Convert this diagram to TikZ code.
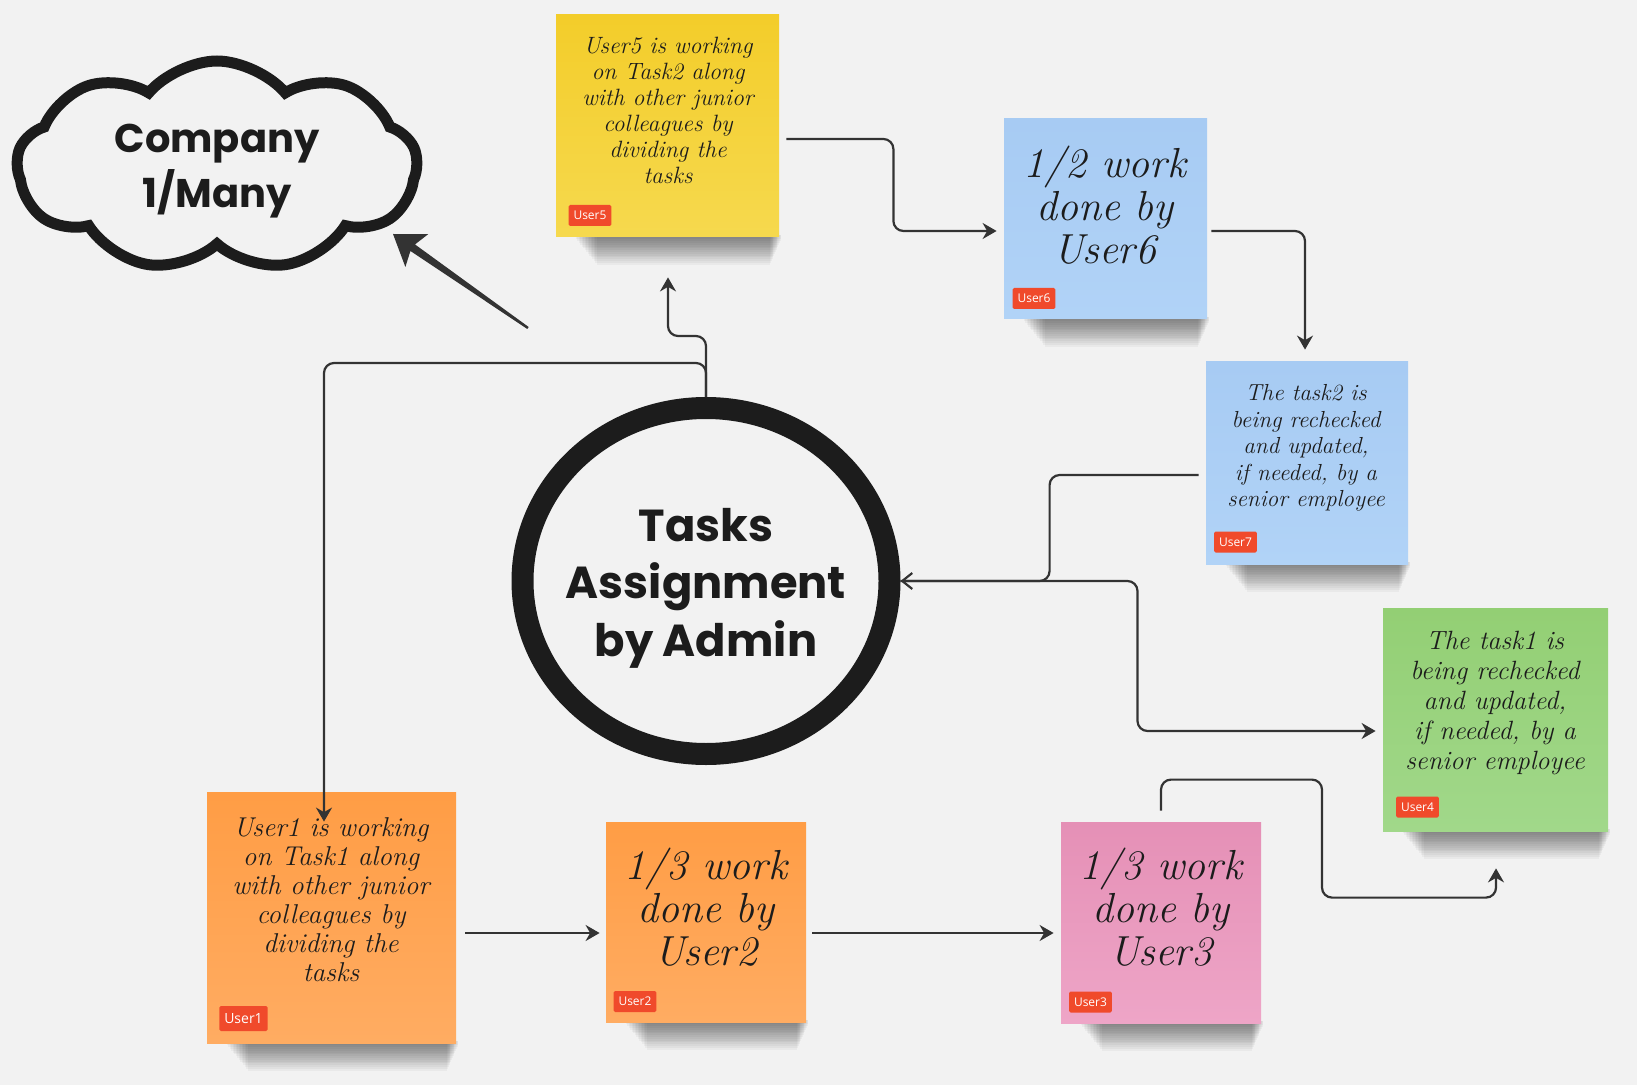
\documentclass[tikz,border=0pt]{standalone}
\usepackage{fontspec}
\newfontfamily\headfont{Poppins}
\newfontfamily\tagfont{Open Sans}
\usetikzlibrary{arrows.meta, calc, shapes.geometric, shapes.symbols}
\definecolor{bg}{HTML}{F2F2F2}
\definecolor{ink}{HTML}{1C1C1C}
\definecolor{linkgray}{HTML}{333333}
\definecolor{tagred}{HTML}{F04A2B}
\definecolor{yellowtop}{HTML}{F3CD2A}
\definecolor{yellowbot}{HTML}{F6D94E}
\definecolor{bluetop}{HTML}{A7CBF3}
\definecolor{bluebot}{HTML}{B1D3F7}
\definecolor{greentop}{HTML}{93CF74}
\definecolor{greenbot}{HTML}{A1D88A}
\definecolor{orangetop}{HTML}{FF9D45}
\definecolor{orangebot}{HTML}{FFAC62}
\definecolor{pinktop}{HTML}{E590B6}
\definecolor{pinkbot}{HTML}{EEA5C7}
\pgfdeclarelayer{bgl}
\pgfsetlayers{bgl,main}

\begin{document}
\begin{tikzpicture}[x=0.5pt, y=-0.5pt, >=Stealth,
  note/.style={inner sep=0pt},
  shadowband/.style={fill=black, fill opacity=0.035},
  hand/.style 2 args={font=\itshape\fontsize{#1}{#2}\selectfont, text=ink, align=center, inner sep=0pt},
  head/.style 2 args={font=\headfont\bfseries\fontsize{#1}{#2}\selectfont, text=ink, align=center, inner sep=0pt},
  tag/.style={fill=tagred, text=white, inner xsep=2.5pt, inner ysep=0pt, minimum height=10.5pt,
    rounded corners=0.8pt, font=\tagfont\fontsize{6}{7}\selectfont},
  link/.style={draw=linkgray, line width=1.1pt, rounded corners=5pt, -{Stealth[length=7pt, width=8pt]}}]
  \useasboundingbox (0,0) rectangle (1637,1085);

  % sticky notes
  \node[note, minimum width=111.5pt, minimum height=111pt, top color=yellowtop, bottom color=yellowbot] (n5) at (667.5,126) {};
  \node[note, minimum width=101.5pt, minimum height=100pt, top color=bluetop, bottom color=bluebot] (n6) at (1105.5,219) {};
  \node[note, minimum width=101pt, minimum height=101pt, top color=bluetop, bottom color=bluebot] (n7) at (1307,463) {};
  \node[note, minimum width=112.5pt, minimum height=111.5pt, top color=greentop, bottom color=greenbot] (n4) at (1495.5,719.5) {};
  \node[note, minimum width=124.5pt, minimum height=125.5pt, top color=orangetop, bottom color=orangebot] (n1) at (331.5,917.5) {};
  \node[note, minimum width=100pt, minimum height=100pt, top color=orangetop, bottom color=orangebot] (n2) at (706,922) {};
  \node[note, minimum width=100pt, minimum height=100.5pt, top color=pinktop, bottom color=pinkbot] (n3) at (1161,922.5) {};

  % note texts
  \node[hand={11.8}{13}] (t5) at (668,110) {User5 is working\\on Task2 along\\with other junior\\colleagues by\\dividing the\\tasks};
  \node[hand={21}{21.5}] (t6) at (1105,205) {1/2 work\\done by\\User6};
  \node[hand={11.6}{13.3}] (t7) at (1306,448) {The task2 is\\being rechecked\\and updated,\\if needed, by a\\senior employee};
  \node[hand={13.2}{15}] (t4) at (1495,703) {The task1 is\\being rechecked\\and updated,\\if needed, by a\\senior employee};
  \node[hand={13.6}{14.5}] (t1) at (331,900) {User1 is working\\on Task1 along\\with other junior\\colleagues by\\dividing the\\tasks};
  \node[hand={21}{21.5}] (t2) at (706,907) {1/3 work\\done by\\User2};
  \node[hand={21}{21.5}] (t3) at (1161,907) {1/3 work\\done by\\User3};

  % user tags
  \node[tag] (u5) at (590,215.5) {User5};
  \node[tag] (u6) at (1034,298.5) {User6};
  \node[tag] (u7) at (1235.5,542) {User7};
  \node[tag] (u4) at (1417.5,807) {User4};
  \node[tag, minimum height=12.5pt, font=\tagfont\fontsize{7}{8}\selectfont] (u1) at (243.5,1018.5) {User1};
  \node[tag] (u2) at (635,1001.5) {User2};
  \node[tag] (u3) at (1090.5,1002) {User3};

  % cloud and centre
  \node[cloud, cloud puffs=9, cloud puff arc=100, aspect=1.9, draw=ink, line width=5.5pt, fill=bg,
    minimum width=200pt, minimum height=105pt, inner sep=0pt] (company) at (217,166) {};
  \node[head={20}{27.5}] (companylbl) at ($(company.center)+(0,5)$) {Company\\1/Many};
  \node[ellipse, draw=ink, line width=11pt, minimum width=183.5pt, minimum height=173pt] (admin) at (706,581) {};
  \node[head={22.4}{28.7}] (adminlbl) at ($(admin.center)+(0,7)$) {Tasks\\Assignment\\by Admin};

  % big arrow towards the cloud
  \coordinate (bigtail) at (528,328);
  \coordinate (bigtip) at (393,234);
  \coordinate (hb) at ($(bigtip)!14.5pt!(bigtail)$);
  \coordinate (sb) at ($(bigtip)!12pt!(bigtail)$);
  \fill[linkgray, line join=round] (bigtip) -- ($(hb)!10pt!90:(bigtip)$) -- ($(sb)!2pt!90:(bigtip)$)
    -- ($(bigtail)!0.6pt!90:(bigtip)$) -- ($(bigtail)!0.6pt!-90:(bigtip)$)
    -- ($(sb)!2pt!-90:(bigtip)$) -- ($(hb)!10pt!-90:(bigtip)$) -- cycle;

  % links
  \draw[link] ($(n5.east)+(7,13)$) -- ++(107,0) |- ($(n6.west)+(-7,12)$);
  \draw[link] ($(n6.east)+(4,12)$) -| ($(n7.north)+(-2,-12)$);
  \draw[link, -{Straight Barb[length=5pt, width=8pt]}] ($(n7.west)+(-7,12)$) -- ++(-149,0) |- (admin.east);
  \draw[link] (admin.east) -- ++(237,0) |- ($(n4.west)+(-7,11.5)$);
  \draw[link] ($(n3.north)+(0,-11)$) -- ++(0,-31) -- ++(161,0) -- ++(0,118) -| ($(n4.south)+(0.5,37)$);
  \draw[link] ($(n1.east)+(9,15.5)$) -- ($(n2.west)+(-6,11)$);
  \draw[link] ($(n2.east)+(6,11)$) -- ($(n3.west)+(-7,10.5)$);
  \draw[link] (admin.north) -- ++(0,-61) -| ($(n5.south)+(0.5,40)$);
  \draw[link] (admin.north) -- ++(0,-34) -| ($(n1.north)+(-7.5,30)$);

  % background and soft shadows
  \begin{pgfonlayer}{bgl}
    \fill[bg] (0,0) rectangle (1637,1085);
    \foreach \k in {1,...,7}
      \foreach \i in {0,...,14}
        \fill[shadowband] ($(n\k.south west)+(20+1.5*\i,-2)$) rectangle ($(n\k.south east)+(2-0.8*\i,2+1.8*\i)$);
  \end{pgfonlayer}
\end{tikzpicture}
\end{document}
